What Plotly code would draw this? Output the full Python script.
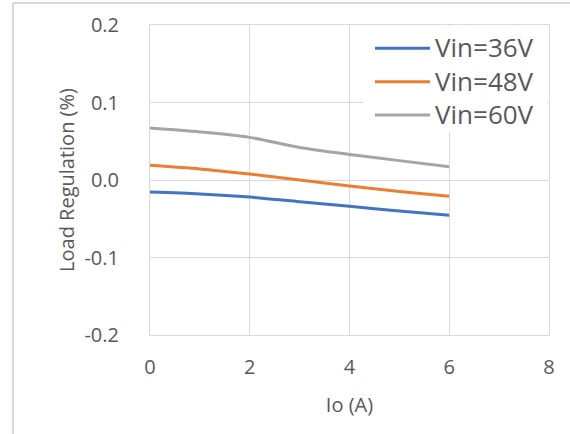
import plotly.graph_objects as go

io = [0, 1, 2, 3, 4, 5, 6]
vin36 = [-0.0156, -0.018, -0.022, -0.028, -0.034, -0.040, -0.0456]
vin48 = [0.019, 0.0143, 0.0076, 0.0, -0.0076, -0.0148, -0.021]
vin60 = [0.067, 0.062, 0.055, 0.042, 0.033, 0.025, 0.017]

names = ["Vin=36V", "Vin=48V", "Vin=60V"]
colors = ["#4472C4", "#ED7D31", "#A5A5A5"]
series = [vin36, vin48, vin60]

y_ticks = [-0.2, -0.1, 0.0, 0.1, 0.2]
y_labels = ["-0.2", "-0.1", "0.0", "0.1", "0.2"]
x_ticks = [0, 2, 4, 6, 8]

grid = "#D9D9D9"
txt = "#595959"
font = "Open Sans, DejaVu Sans, sans-serif"

fig = go.Figure()
for n, c, s in zip(names, colors, series):
    fig.add_trace(go.Scatter(x=io, y=s, name=n, mode="lines", showlegend=False,
                             line=dict(color=c, width=3, shape="spline", smoothing=0.8)))

# manual legend (paper coordinates)
shapes = [
    dict(type="line", xref="paper", yref="paper", x0=-0.3434, x1=-0.3434, y0=1.071, y1=-0.4,
         line=dict(color=grid, width=2)),
    dict(type="line", xref="paper", yref="paper", x0=-0.3434, x1=1.1, y0=1.071, y1=1.071,
         line=dict(color=grid, width=2)),
    dict(type="rect", xref="paper", yref="paper", x0=0.534, x1=0.997, y0=0.655, y1=0.994,
         fillcolor="white", line=dict(width=0), layer="above"),
]
annotations = []
leg_y = [0.9248, 0.8171, 0.7097]
for n, c, ly in zip(names, colors, leg_y):
    shapes.append(dict(type="line", xref="paper", yref="paper", x0=0.5639, x1=0.7018,
                       y0=ly, y1=ly, line=dict(color=c, width=3), layer="above"))
    annotations.append(dict(text=n, xref="paper", yref="paper", x=0.7093, y=ly + 0.003,
                            xanchor="left", yanchor="middle", showarrow=False,
                            font=dict(size=26, color=txt, family=font)))

fig.update_layout(
    width=570, height=434,
    margin=dict(l=150, r=21, t=25, b=99),
    paper_bgcolor="white", plot_bgcolor="white",
    font=dict(family=font, color=txt, size=20),
    showlegend=False,
    xaxis=dict(range=[0, 8], tickvals=x_ticks, showgrid=True, gridcolor=grid, gridwidth=1,
               showline=True, linecolor=grid, linewidth=1, mirror=True,
               zeroline=False, ticks="", ticklabelstandoff=14,
               tickfont=dict(size=20, color=txt),
               title=dict(text="Io (A)", font=dict(size=20, color=txt), standoff=18)),
    yaxis=dict(range=[-0.2, 0.2], tickvals=y_ticks, ticktext=y_labels, showgrid=True,
               gridcolor=grid, gridwidth=1,
               showline=True, linecolor=grid, linewidth=1, mirror=True,
               zeroline=True, zerolinecolor=grid, zerolinewidth=1,
               ticks="", ticklabelstandoff=26,
               tickfont=dict(size=20, color=txt),
               title=dict(text="Load Regulation (%)", font=dict(size=20, color=txt), standoff=4)),
    shapes=shapes,
    annotations=annotations,
)

fig.write_html("out.html")
